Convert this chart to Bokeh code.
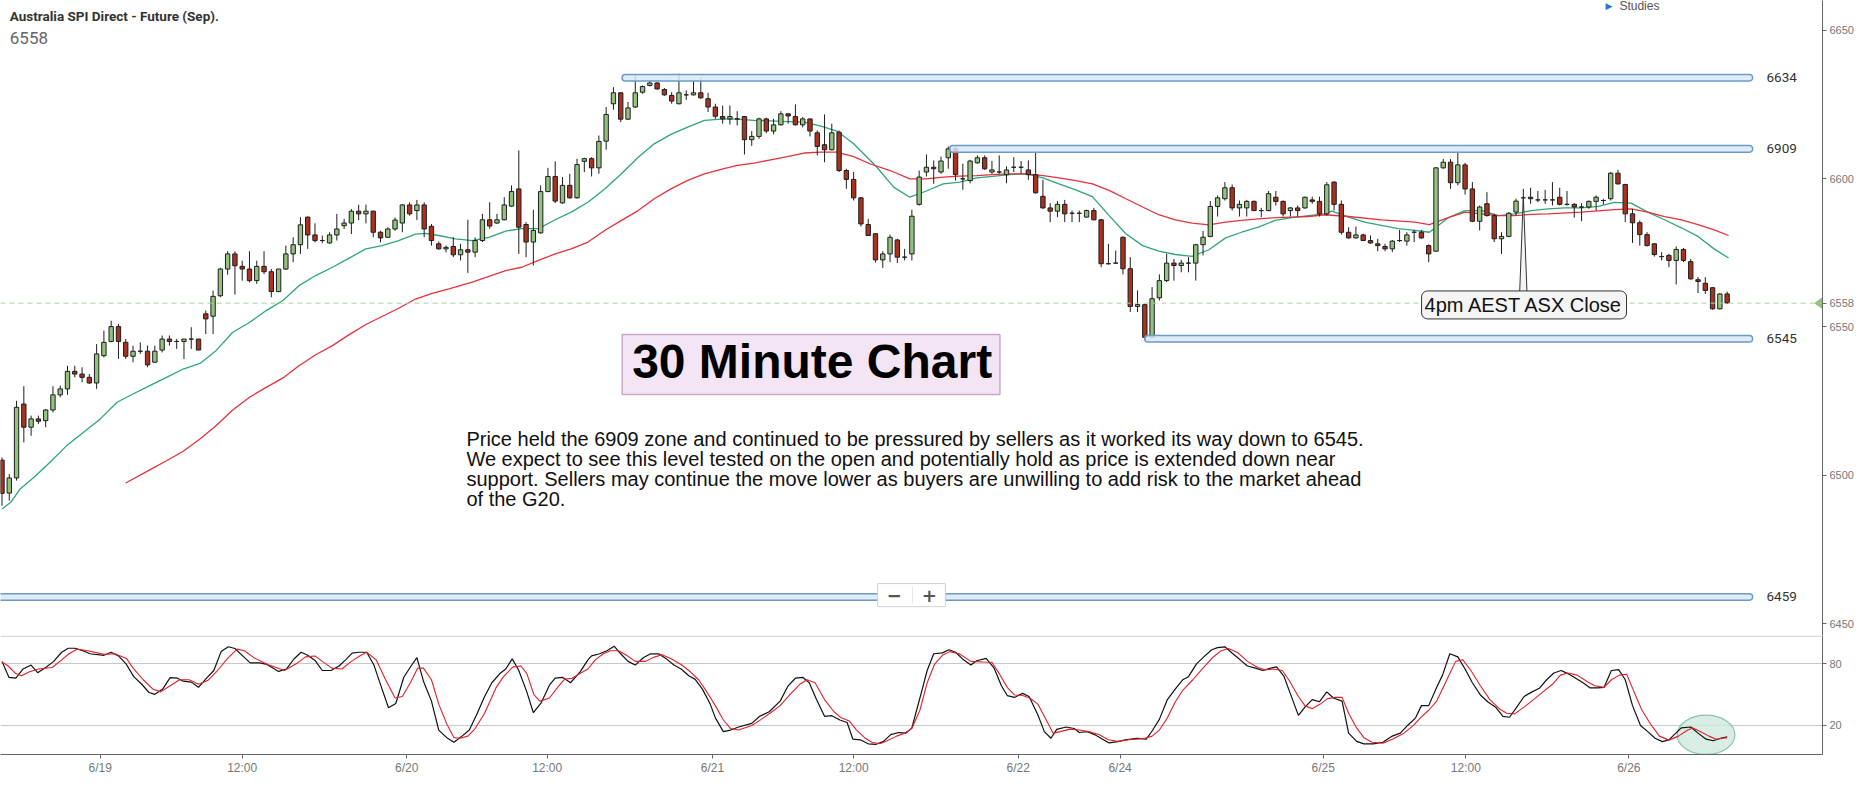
from bokeh.plotting import figure
from bokeh.models import Range1d, FixedTicker, BoxAnnotation, Label, Span, ColumnDataSource
from bokeh.layouts import column
from bokeh.embed import file_html
from bokeh.resources import INLINE

# ---------------- data (30-minute bars) ----------------
opens = [6505.1,6494.0,6499.1,6524.0,6516.2,6519.0,6518.4,6522.0,6527.1,6529.1,6535.0,6534.1,6533.0,6531.1,6540.3,6545.1,6550.1,6544.8,6540.1,6541.8,
         6541.8,6538.1,6542.2,6545.9,6545.1,6545.1,6545.9,6545.9,6554.4,6553.6,6560.5,6569.5,6574.6,6570.4,6569.5,6565.6,6570.4,6568.6,6561.9,6569.5,
         6574.6,6577.7,6587.0,6581.0,6579.1,6578.3,6581.0,6584.1,6585.0,6589.0,6588.1,6589.0,6581.9,6580.2,6583.0,6585.0,6591.1,6589.2,6591.1,6583.9,
         6578.0,6576.3,6577.1,6574.3,6576.0,6575.2,6579.1,6586.1,6585.0,6586.1,6590.7,6596.5,6584.5,6578.6,6581.7,6595.6,6600.7,6591.8,6597.7,6593.5,
         6605.8,6606.7,6603.6,6612.6,6625.2,6628.9,6620.0,6624.1,6629.1,6631.4,6632.2,6630.0,6628.0,6625.2,6628.2,6628.2,6628.9,6626.9,6624.1,6620.9,
         6620.1,6620.1,6620.9,6613.1,6614.2,6620.1,6616.0,6618.1,6621.8,6620.9,6618.1,6620.1,6615.4,6611.4,6609.7,6615.6,6602.7,6599.7,6593.5,6584.5,
         6581.4,6572.6,6574.6,6579.3,6573.5,6574.6,6591.3,6602.2,6603.8,6602.2,6607.0,6610.0,6599.9,6599.3,6605.3,6607.0,6602.2,6602.2,6601.3,6603.8,
         6603.8,6602.9,6601.3,6594.0,6590.1,6589.0,6591.3,6588.3,6588.3,6587.0,6589.2,6586.1,6571.3,6571.5,6580.2,6569.6,6556.9,6557.5,6546.5,6559.8,
         6565.6,6571.5,6570.7,6571.5,6571.5,6577.7,6580.5,6590.6,6593.2,6596.9,6590.1,6590.1,6592.3,6589.2,6589.2,6593.7,6592.3,6589.2,6590.1,6590.1,
         6592.8,6592.3,6588.1,6598.8,6591.3,6581.9,6580.0,6581.0,6579.1,6578.0,6577.1,6576.3,6579.1,6578.9,6581.9,6581.9,6577.4,6575.5,6603.6,6605.5,
         6598.6,6604.6,6596.5,6585.6,6591.5,6587.5,6579.7,6580.5,6588.7,6593.5,6593.7,6592.8,6592.8,6592.8,6593.7,6591.3,6591.3,6590.4,6590.4,6592.3,
         6592.6,6593.2,6601.8,6598.0,6588.1,6585.1,6581.1,6578.0,6573.7,6574.1,6572.4,6576.1,6572.0,6565.9,6564.7,6563.2,6556.1,6561.1]
highs = [6506.0,6500.4,6525.1,6530.0,6520.1,6520.1,6522.3,6530.0,6530.2,6536.9,6536.9,6536.4,6534.1,6544.2,6548.7,6552.1,6551.0,6545.9,6543.7,6544.8,
         6543.7,6543.7,6547.1,6547.1,6545.9,6545.9,6549.9,6545.9,6555.5,6562.2,6569.9,6575.5,6575.5,6572.3,6575.5,6572.3,6575.5,6569.5,6569.5,6577.4,
         6580.2,6587.0,6587.2,6584.9,6580.8,6581.9,6588.1,6586.4,6589.7,6591.2,6591.2,6589.2,6582.4,6583.6,6586.9,6591.4,6592.0,6592.8,6592.0,6584.7,
         6578.8,6577.4,6580.2,6578.0,6586.1,6580.2,6588.1,6592.0,6588.1,6593.7,6597.7,6609.5,6585.3,6589.5,6597.7,6603.6,6605.8,6600.5,6601.6,6606.7,
         6607.0,6607.2,6614.5,6624.1,6630.8,6629.1,6625.8,6635.1,6631.4,6632.8,6632.5,6630.5,6629.1,6635.3,6629.7,6632.8,6634.0,6628.9,6625.2,6624.6,
         6624.6,6622.7,6620.9,6616.0,6620.5,6620.5,6620.1,6622.7,6622.0,6625.0,6620.7,6620.1,6616.2,6621.6,6618.5,6616.2,6603.3,6602.2,6593.7,6586.4,
         6581.6,6575.5,6581.1,6579.7,6576.3,6589.5,6602.7,6608.1,6606.1,6607.4,6610.8,6610.8,6605.0,6606.3,6607.8,6607.8,6605.9,6607.8,6604.1,6607.2,
         6605.9,6606.1,6608.9,6599.6,6591.7,6592.4,6592.8,6589.2,6589.2,6589.5,6590.1,6586.4,6578.0,6575.7,6580.5,6573.5,6562.3,6557.8,6563.4,6567.7,
         6574.6,6572.9,6572.6,6573.5,6578.0,6582.3,6592.4,6594.3,6598.8,6598.0,6592.6,6592.8,6592.6,6590.1,6595.8,6595.8,6592.6,6590.4,6590.9,6593.9,
         6593.9,6593.9,6598.8,6599.1,6592.6,6583.6,6583.8,6581.4,6580.8,6579.7,6578.0,6579.3,6582.7,6581.9,6582.7,6582.7,6577.8,6603.8,6606.6,6606.6,
         6609.2,6605.3,6598.8,6590.9,6595.4,6588.1,6581.9,6588.7,6593.2,6596.5,6596.9,6595.8,6596.2,6598.8,6596.9,6595.8,6591.7,6591.7,6592.6,6594.3,
         6593.2,6602.2,6602.9,6598.2,6589.8,6585.9,6581.9,6578.2,6575.2,6574.6,6577.1,6576.6,6572.9,6566.8,6566.8,6563.4,6561.4,6561.9]
lows = [6489.7,6491.4,6498.2,6511.1,6513.3,6517.3,6516.2,6521.2,6526.3,6527.1,6533.0,6531.3,6530.8,6529.1,6539.7,6544.8,6539.2,6539.2,6538.1,6540.9,
        6536.4,6538.1,6541.4,6543.7,6542.6,6539.2,6542.6,6542.2,6547.6,6547.6,6560.0,6567.6,6560.9,6565.6,6565.0,6564.5,6567.8,6560.0,6561.7,6569.2,
        6571.8,6574.6,6576.3,6578.5,6578.2,6578.0,6579.1,6583.0,6581.3,6586.0,6584.9,6580.2,6578.5,6580.0,6582.4,6581.9,6587.5,6586.0,6580.2,6577.4,
        6576.0,6575.1,6573.5,6572.4,6568.2,6573.5,6578.6,6583.1,6584.7,6585.9,6590.4,6574.6,6573.5,6570.7,6581.4,6595.4,6591.7,6591.5,6593.2,6593.2,
        6602.2,6600.7,6601.6,6609.7,6623.2,6619.0,6619.8,6623.8,6628.6,6631.0,6630.0,6627.9,6625.2,6625.0,6626.5,6628.0,6626.9,6622.4,6620.1,6618.5,
        6618.2,6617.9,6608.1,6611.0,6613.4,6615.3,6614.9,6617.9,6618.5,6617.9,6617.3,6614.2,6607.8,6605.5,6609.5,6602.2,6596.5,6592.6,6583.8,6580.6,
        6571.7,6569.9,6571.8,6571.5,6572.4,6572.4,6590.9,6600.7,6598.2,6601.6,6603.3,6599.3,6596.2,6598.4,6605.0,6602.9,6601.6,6601.6,6598.4,6602.2,
        6601.6,6599.6,6594.9,6589.8,6585.3,6587.0,6585.3,6585.3,6585.3,6586.8,6585.9,6570.1,6571.0,6571.3,6567.7,6555.0,6555.0,6545.6,6546.3,6558.9,
        6565.1,6565.6,6568.4,6568.4,6565.6,6574.1,6580.2,6587.2,6592.6,6589.2,6587.2,6587.2,6589.0,6587.0,6589.0,6590.9,6587.2,6587.2,6587.2,6589.8,
        6591.5,6587.2,6587.5,6589.2,6581.1,6579.7,6579.7,6578.9,6578.0,6575.5,6575.5,6575.2,6578.6,6577.4,6578.6,6579.7,6571.8,6575.5,6603.3,6596.5,
        6597.7,6594.6,6585.3,6582.5,6587.2,6578.6,6574.6,6580.2,6587.5,6587.5,6591.5,6592.0,6591.5,6590.9,6590.9,6590.9,6586.8,6585.6,6589.8,6589.2,
        6591.3,6592.6,6598.0,6585.3,6578.3,6577.4,6577.1,6573.7,6572.4,6570.1,6564.3,6571.8,6565.9,6561.4,6561.1,6555.8,6555.9,6557.8]
closes = [6493.9,6499.1,6522.9,6516.2,6519.0,6518.2,6522.0,6527.1,6529.1,6535.0,6534.1,6533.0,6531.1,6540.9,6544.8,6550.1,6545.1,6540.1,6541.8,6541.8,
          6537.2,6541.8,6545.9,6545.1,6545.1,6545.9,6545.9,6542.2,6552.7,6560.3,6569.5,6574.6,6570.6,6569.5,6565.6,6570.4,6568.6,6561.9,6569.5,6574.6,
          6577.7,6584.4,6581.0,6579.1,6579.1,6581.0,6583.0,6585.0,6589.0,6588.1,6589.0,6581.9,6580.0,6583.0,6586.0,6591.1,6588.1,6591.1,6583.0,6579.1,
          6576.3,6576.8,6574.3,6576.0,6575.2,6579.1,6586.1,6584.0,6586.1,6591.1,6595.6,6583.6,6578.6,6582.5,6595.6,6600.7,6592.4,6597.7,6593.5,6604.7,
          6606.7,6603.6,6612.5,6621.6,6628.9,6620.0,6623.8,6628.9,6631.0,6632.2,6630.2,6628.2,6626.1,6628.9,6628.2,6628.9,6627.2,6624.1,6621.0,6620.1,
          6620.9,6620.1,6613.1,6614.2,6620.1,6616.0,6618.1,6621.8,6621.1,6618.1,6620.1,6616.0,6610.8,6609.7,6615.4,6602.7,6599.7,6593.5,6584.7,6580.8,
          6572.6,6574.6,6580.2,6573.5,6573.5,6587.3,6600.5,6603.8,6603.3,6605.9,6610.0,6601.3,6599.9,6605.9,6607.0,6603.3,6602.9,6602.2,6602.9,6603.8,
          6603.8,6601.3,6595.2,6590.1,6589.0,6591.3,6588.1,6588.3,6588.3,6589.2,6586.1,6571.3,6571.3,6571.5,6569.6,6556.9,6557.5,6546.5,6559.5,6565.6,
          6571.5,6570.7,6571.5,6571.5,6577.7,6580.2,6590.6,6593.5,6596.9,6590.1,6591.3,6592.3,6589.2,6589.2,6594.9,6592.3,6588.1,6590.1,6589.2,6593.7,
          6592.3,6588.1,6597.9,6591.3,6581.9,6580.0,6581.0,6579.1,6578.3,6577.4,6576.3,6578.9,6579.1,6581.0,6581.9,6580.0,6574.6,6603.6,6605.5,6598.6,
          6604.6,6596.5,6585.6,6590.4,6587.5,6579.7,6580.5,6588.3,6592.4,6593.5,6593.2,6592.8,6592.8,6592.8,6591.3,6591.3,6590.4,6590.4,6592.3,6593.7,
          6592.6,6601.8,6598.2,6588.1,6585.1,6581.1,6577.4,6574.4,6573.7,6572.4,6576.1,6572.4,6566.2,6565.3,6562.3,6556.1,6561.1,6558.1]
bars = list(range(len(closes)))

# moving averages (bar position, price)
ma_fast_x = [0.0,1.2,2.5,4.4,6.6,8.9,11.2,13.5,15.8,18.0,20.3,22.6,24.9,27.2,29.4,31.7,34.0,36.3,38.6,40.8,43.1,45.4,47.7,50.0,52.2,54.5,56.8,58.2,
             60.0,62.3,64.6,66.9,69.2,71.4,73.7,76.0,78.2,80.5,82.8,85.1,87.4,89.6,91.9,94.2,96.5,98.8,101.0,103.3,105.6,107.9,110.2,112.5,114.7,117.0,
             119.3,120.2,122.5,124.7,127.0,129.3,131.6,133.9,136.1,138.4,140.7,143.0,145.2,147.5,149.8,152.1,154.4,156.7,158.9,161.2,163.5,165.8,168.1,
             170.3,172.6,174.9,177.2,179.5,181.7,182.7,185.0,187.2,189.5,191.8,194.1,196.1,198.7,201.0,203.3,205.6,207.8,210.1,212.4,214.7,217.0,219.3,
             221.5,223.8,226.1,228.4,230.7,233.0,235.2,237.2]
ma_fast = [6488.6,6490.9,6495.4,6499.3,6504.4,6510.0,6514.5,6519.0,6524.6,6527.4,6530.2,6533.0,6535.8,6537.7,6542.0,6548.2,6551.5,6555.5,6558.9,6563.9,
           6567.3,6570.1,6573.2,6576.3,6577.4,6579.1,6581.3,6581.5,6580.8,6579.7,6579.1,6580.2,6582.3,6583.1,6583.1,6586.1,6588.7,6592.0,6596.5,6601.6,
           6607.2,6611.7,6614.9,6617.3,6619.6,6620.0,6620.0,6619.6,6619.4,6619.2,6619.0,6617.7,6616.0,6611.7,6606.1,6603.8,6597.1,6593.7,6595.8,6598.2,
           6598.8,6600.2,6600.7,6601.3,6601.6,6600.2,6598.2,6596.2,6593.9,6587.5,6581.4,6577.4,6575.5,6574.4,6573.8,6576.0,6580.0,6581.9,6583.6,6585.9,
           6586.8,6587.5,6588.1,6589.0,6587.0,6585.3,6584.2,6583.1,6582.5,6581.9,6586.8,6589.2,6589.2,6587.5,6588.1,6589.2,6589.8,6590.1,6590.1,6590.6,
           6592.0,6591.7,6588.7,6586.1,6583.4,6580.5,6576.3,6573.2]
ma_slow_x = [17.0,20.3,22.6,24.9,27.2,29.4,31.7,34.0,36.3,38.6,40.8,43.1,45.4,47.7,50.0,52.2,54.5,56.8,59.1,61.4,64.6,69.2,71.4,73.7,76.0,78.2,80.5,
             82.8,85.1,87.4,89.6,91.9,94.2,96.5,98.8,101.0,103.3,105.6,107.9,110.2,112.5,114.7,117.0,119.3,121.6,122.5,124.7,127.0,129.3,131.6,133.9,
             136.1,138.4,140.7,143.0,145.2,147.5,149.8,152.1,154.4,156.7,158.9,161.2,163.5,165.8,168.1,170.3,172.6,174.9,177.2,179.5,181.7,185.0,189.5,
             194.1,196.1,198.7,201.0,203.3,205.6,207.8,210.1,212.4,217.0,221.5,223.8,226.1,228.4,230.7,233.0,235.2,237.2]
ma_slow = [6497.4,6501.8,6504.9,6508.1,6512.2,6516.7,6522.0,6526.3,6529.6,6532.8,6536.9,6540.6,6543.7,6547.4,6550.8,6553.5,6556.3,6559.4,6561.3,6562.8,
           6565.1,6569.0,6570.1,6572.4,6574.6,6576.3,6578.6,6582.5,6585.9,6589.2,6593.2,6596.5,6599.4,6601.6,6603.1,6604.4,6605.2,6606.3,6607.4,6608.6,
           6608.9,6608.9,6607.4,6604.9,6603.0,6602.2,6599.9,6599.9,6600.5,6600.8,6601.0,6601.3,6601.6,6601.6,6601.0,6600.2,6599.3,6598.2,6596.0,6593.2,
           6590.4,6587.8,6586.1,6585.0,6584.4,6585.3,6585.9,6586.4,6586.8,6587.0,6587.2,6587.8,6587.2,6586.1,6585.3,6584.5,6586.8,6588.7,6588.1,6587.5,
           6587.5,6587.9,6588.1,6588.7,6589.5,6589.8,6588.7,6587.2,6586.1,6584.5,6582.7,6580.8]

# stochastic %K (black) and %D (red)
stoch_k_x = [0.0,0.95,1.9,2.9,4.0,4.9,6.1,7.1,8.2,9.1,10.0,11.1,12.1,14.0,15.0,16.0,17.1,18.1,19.2,20.2,21.0,22.1,23.1,24.1,24.9,26.0,27.0,28.1,29.1,
             30.1,31.1,32.0,33.0,34.1,35.4,36.4,38.0,39.1,40.1,41.1,42.0,43.0,44.0,45.2,46.3,47.2,48.1,49.0,50.1,51.1,52.2,53.1,54.1,55.2,56.2,57.0,
             57.9,59.0,60.0,61.1,62.1,63.2,64.2,65.2,66.3,67.3,68.4,69.2,70.1,71.0,72.1,73.0,74.1,75.2,76.0,77.0,78.1,79.4,80.5,81.0,82.1,83.1,84.1,
             85.0,86.0,87.0,88.1,89.1,90.2,91.2,92.3,93.3,94.4,95.2,96.2,97.3,98.0,99.1,100.1,101.2,103.0,104.1,105.4,106.9,108.0,109.0,110.0,110.9,
             111.9,113.0,114.0,115.1,116.1,116.9,117.9,119.0,120.0,121.1,122.1,123.2,124.2,125.0,126.1,127.1,128.0,129.2,130.1,131.0,132.1,133.1,133.9,
             135.2,136.3,137.3,138.1,139.1,140.2,141.1,142.3,143.2,144.1,144.9,146.2,147.3,148.0,149.1,150.1,151.2,152.1,153.3,154.3,155.9,157.2,158.0,
             159.0,160.1,161.2,162.2,163.0,164.1,165.1,166.2,167.0,168.0,169.1,170.1,171.1,172.2,173.2,174.3,175.1,176.1,176.9,178.1,179.0,180.0,181.0,
             182.0,182.9,184.1,185.0,186.1,187.1,188.4,189.7,191.0,192.1,193.1,194.2,195.0,196.0,197.1,197.9,198.9,200.0,201.0,202.0,203.1,204.1,205.2,
             206.2,207.1,208.1,209.1,210.2,211.2,212.2,213.2,214.2,215.1,216.2,217.2,218.2,219.2,220.1,221.1,222.1,223.0,224.0,225.1,226.1,227.1,228.1,
             229.0,229.8,230.7,232.0,233.0,234.1,235.1,236.1,237.0]
stoch_k = [82.4,66.9,66.0,75.0,78.8,71.4,77.0,82.4,91.3,95.2,95.2,92.8,89.8,88.3,91.3,87.7,79.4,67.5,60.1,52.1,50.3,55.6,66.6,66.0,63.1,62.2,57.1,66.0,73.5,
           91.9,96.6,94.9,88.3,80.9,80.9,79.4,72.6,75.0,84.7,91.3,88.3,83.3,73.5,73.5,77.9,83.9,90.4,91.3,91.3,78.8,55.6,37.2,41.4,66.9,77.9,86.0,
           63.1,43.7,15.5,8.1,3.6,9.6,15.5,30.4,48.2,61.6,70.5,75.0,84.8,73.5,52.7,32.4,42.3,59.2,66.0,66.9,61.6,72.0,83.9,87.7,89.8,92.8,97.2,
           89.8,82.4,78.8,85.9,89.8,89.8,85.3,78.8,75.0,68.1,65.1,55.6,40.8,27.4,14.0,15.5,18.5,22.0,28.9,33.3,43.7,58.6,66.0,66.9,61.6,
           45.2,28.9,29.5,25.3,22.9,6.6,6.0,2.1,1.5,4.5,11.1,13.1,12.5,17.6,46.7,73.5,89.8,90.7,93.7,91.3,83.9,78.8,83.0,
           85.3,75.8,58.6,49.1,47.3,51.2,48.2,30.4,14.0,7.5,16.1,18.5,17.0,13.1,14.0,11.1,6.6,3.0,4.2,6.0,7.5,6.6,14.6,
           25.9,45.2,55.6,64.5,67.5,80.0,86.8,93.7,95.8,96.6,89.8,83.9,77.9,75.8,73.5,75.8,77.0,68.1,52.7,29.8,37.8,45.2,43.1,
           52.7,46.7,43.7,12.5,4.5,2.1,2.1,3.6,9.6,12.5,20.0,27.4,39.3,39.3,57.1,69.0,89.8,86.8,75.0,61.6,49.7,43.1,37.8,
           28.9,28.0,37.8,48.2,52.7,56.2,64.5,71.1,73.5,70.5,66.0,61.6,56.5,56.5,57.1,73.5,74.4,64.5,39.3,20.0,14.0,7.5,4.2,
           6.0,11.6,17.6,18.5,12.5,6.6,5.1,7.5,9.0]
stoch_d_x = [0.0,0.85,1.9,2.7,3.7,5.0,6.9,8.2,9.2,10.3,11.8,14.0,15.5,17.1,18.1,19.4,20.7,21.8,23.1,24.4,25.7,27.0,28.3,29.6,31.0,32.3,33.3,34.6,36.5,
             38.8,40.6,41.7,43.0,44.0,45.3,46.7,48.0,49.3,50.1,51.4,52.7,54.0,55.0,56.1,57.1,57.9,59.0,60.0,61.1,62.1,62.9,64.0,65.0,66.3,67.9,68.9,
             70.2,71.3,72.1,73.1,73.9,75.2,76.5,77.3,78.3,79.4,80.5,81.5,82.6,83.6,84.7,85.7,87.0,88.4,89.7,90.7,92.0,93.3,94.6,95.7,96.7,98.0,99.1,
             100.1,101.2,103.0,104.3,105.6,106.9,108.2,109.6,110.6,111.7,113.0,114.3,115.3,116.4,117.4,118.5,119.5,120.6,121.6,122.9,124.0,125.0,126.1,
             127.1,128.1,129.2,130.2,131.5,133.1,134.7,136.0,137.0,138.1,139.1,140.2,141.2,142.3,143.3,144.4,145.4,146.7,148.0,149.3,150.7,152.0,153.3,
             154.8,156.9,158.0,159.0,160.1,161.2,162.2,163.6,164.9,166.2,167.5,168.5,169.8,171.1,172.5,173.5,174.6,175.9,176.9,178.1,179.0,180.0,181.1,
             182.1,183.2,184.1,185.0,186.1,187.1,188.2,189.7,191.0,192.6,193.9,195.0,196.0,197.1,198.1,198.9,199.7,200.7,201.8,203.1,204.4,205.7,206.7,
             207.8,209.1,210.4,211.7,213.0,214.1,215.1,216.4,217.7,218.8,220.1,221.1,222.2,223.2,224.3,225.3,226.6,227.7,229.0,230.3,231.6,232.3,233.3,
             234.5,235.5,237.0]
stoch_d = [81.8,77.9,70.5,68.4,72.0,75.0,76.4,83.9,89.8,94.3,92.8,89.2,89.8,85.3,75.0,64.5,55.6,52.7,58.6,64.5,64.5,60.1,64.0,73.5,85.4,94.3,92.8,86.0,79.4,
           73.5,80.9,86.8,87.7,82.4,75.8,75.0,82.4,88.3,91.3,83.9,64.5,46.7,48.2,61.6,75.8,75.8,64.5,40.8,21.5,8.1,7.5,9.6,17.0,31.9,57.1,67.5,
           77.0,77.9,70.5,49.7,43.7,46.7,58.6,65.1,66.0,70.5,75.0,83.9,89.8,92.8,92.8,88.9,82.4,82.4,86.8,88.9,84.8,79.4,72.0,64.5,54.1,39.3,25.3,
           17.0,15.5,20.0,25.9,32.4,39.3,49.7,60.1,64.5,61.6,45.2,33.3,27.4,24.4,15.5,8.1,3.6,2.1,5.1,9.6,12.5,17.0,34.8,
           61.6,79.4,88.3,91.9,89.8,82.4,81.8,81.5,70.5,57.1,49.7,49.1,46.7,40.8,27.4,12.5,14.0,16.4,15.5,14.0,11.1,6.0,4.5,
           6.0,7.2,9.6,15.5,27.4,43.1,54.1,64.5,75.0,85.4,92.8,94.9,90.7,82.4,76.4,74.1,75.0,73.5,63.1,48.2,39.3,36.3,40.8,
           46.1,47.3,47.3,31.9,17.6,8.1,3.6,2.7,6.6,12.5,20.0,28.3,34.8,43.7,58.6,70.5,82.4,83.9,73.5,58.6,45.2,36.3,31.9,
           31.3,37.8,45.2,52.7,60.1,69.0,71.1,69.0,63.1,58.6,57.1,64.5,69.0,69.9,51.2,34.8,20.0,9.6,5.7,9.6,15.5,17.6,14.0,
           9.6,6.6,8.1]

# support / resistance levels drawn on the chart
level_price = [6634, 6610, 6546, 6459]
level_label = ["6634", "6909", "6545", "6459"]
level_start = [85.2, 130.2, 157.0, -1.0]
last_price = 6558

# price axis ticks and time axis
price_ticks = [6450, 6500, 6550, 6600, 6650]
tick_pos = [13.5, 33.0, 55.6, 74.9, 97.6, 117.0, 139.6, 153.6, 181.5, 201.1, 223.5]
tick_labels = ["6/19", "12:00", "6/20", "12:00", "6/21", "12:00", "6/22", "6/24", "6/25", "12:00", "6/26"]

paragraph = ["Price held the 6909 zone and continued to be pressured by sellers as it worked its way down to 6545.",
             "We expect to see this level tested on the open and potentially hold as price is extended down near",
             "support. Sellers may continue the move lower as buyers are unwilling to add risk to the market ahead",
             "of the G20."]
close_bar = 209

# ---------------- styling constants ----------------
GREEN = "#93c27f"
RED = "#a8321f"
AX = "#666666"
FW = 1822
BAND_END = 240.5

xr = Range1d(-0.205, 250.1)

# ---------------- price panel ----------------
p = figure(frame_width=FW, frame_height=635, x_range=xr, y_range=Range1d(6446.0, 6660.0),
           output_backend="svg", toolbar_location=None, y_axis_location="right", x_axis_location=None,
           min_border=0, outline_line_color=None, title=None)
p.grid.visible = False
p.yaxis.ticker = FixedTicker(ticks=sorted(price_ticks + [last_price]))
ax = p.yaxis[0]
ax.axis_line_color = AX
ax.major_tick_line_color = AX
ax.major_tick_in = 0
ax.major_tick_out = 4
ax.minor_tick_line_color = None
ax.major_label_text_font = "Liberation Sans"
ax.major_label_text_font_size = "11px"
ax.major_label_text_color = "#777777"
ax.major_label_standoff = 3

# dashed last-price line
p.add_layout(Span(location=last_price, dimension="width", line_color="#a9d49a", line_dash="5 4", line_width=1))

# moving averages
p.line(ma_fast_x, ma_fast, line_color="#2fa57a", line_width=1.3)
p.line(ma_slow_x, ma_slow, line_color="#e5323c", line_width=1.3)

# candles
tops = [max(o, c) for o, c in zip(opens, closes)]
bots = [min(o, c) for o, c in zip(opens, closes)]
cols = [GREEN if c >= o else RED for o, c in zip(opens, closes)]
src = ColumnDataSource(dict(x=bars, top=tops, bottom=bots, high=highs, low=lows, color=cols))
p.segment(x0="x", y0="high", x1="x", y1="low", source=src, line_color="#1e1e1e", line_width=1)
p.vbar(x="x", width=0.6, top="top", bottom="bottom", fill_color="color", line_color="#1e1e1e",
       line_width=1, source=src)

# last price arrow at the axis
p.patch([249.05, 250.1, 250.1], [last_price, last_price + 1.8, last_price - 1.8],
        fill_color="#8cc07c", line_color="#8cc07c")

# level bands
for lp, ls in zip(level_price, level_start):
    p.add_layout(BoxAnnotation(left=ls, right=BAND_END, bottom=lp - 1.1, top=lp + 1.1,
                               fill_color="#d9e8f8", fill_alpha=0.85, line_color="#6a9bcb",
                               line_alpha=1, line_width=1.5, border_radius=3))
for lp, lab in zip(level_price, level_label):
    p.add_layout(Label(x=BAND_END + 1.9, y=lp, text=lab, text_baseline="middle", text_align="left",
                       text_font="Roboto", text_font_size="13.5px", text_color="#333333"))

# title texts
p.add_layout(Label(x=1.07, y=6654.9, text="Australia SPI Direct - Future (Sep).", text_font="Roboto",
                   text_font_style="bold", text_font_size="13.5px", text_color="#333333", text_baseline="middle"))
p.add_layout(Label(x=1.07, y=6647.4, text=str(last_price), text_font="Roboto", text_font_size="17px",
                   text_color="#666666", text_baseline="middle"))
p.add_layout(Label(x=220.3, y=6658.1, text="\u25B6", text_font="DejaVu Sans", text_font_size="9px",
                   text_color="#2b6fd8", text_baseline="middle"))
p.add_layout(Label(x=222.2, y=6658.1, text="Studies", text_font="Liberation Sans", text_font_size="12px",
                   text_color="#555555", text_baseline="middle"))

# "30 Minute Chart" box
p.add_layout(BoxAnnotation(left=85.2, right=137.1, top=6547.4, bottom=6527.2, fill_color="#f3e5f3",
                           fill_alpha=1, line_color="#c9a9cb", line_alpha=1, line_width=1.5))
p.add_layout(Label(x=111.3, y=6538.5, text="30 Minute Chart", text_align="center", text_baseline="middle",
                   text_font="Liberation Sans", text_font_style="bold", text_font_size="48px", text_color="#000000"))

# commentary paragraph
for i, line in enumerate(paragraph):
    p.add_layout(Label(x=63.8, y=6512.1 - i * 6.7, text=line, text_baseline="middle",
                       text_font="Liberation Sans", text_font_size="20px", text_color="#111111"))

# zoom control
p.add_layout(BoxAnnotation(left=120.3, right=129.6, top=6463.5, bottom=6455.7, fill_color="white",
                           fill_alpha=1, line_color="#d0d0d0", line_alpha=1, line_width=1))
p.add_layout(Label(x=122.6, y=6459.6, text="\u2212", text_align="center", text_baseline="middle",
                   text_font="DejaVu Sans", text_font_style="bold", text_font_size="18px", text_color="#555555"))
p.add_layout(Label(x=127.4, y=6459.6, text="+", text_align="center", text_baseline="middle",
                   text_font="DejaVu Sans", text_font_style="bold", text_font_size="18px", text_color="#555555"))
p.add_layout(BoxAnnotation(left=125.05, right=125.15, top=6462.5, bottom=6456.7, fill_color="#dddddd",
                           fill_alpha=1, line_color=None))

# ASX close callout
box_top = 6561.9
p.patch([close_bar - 0.5, close_bar, close_bar + 0.5], [box_top, 6594.0, box_top],
        fill_color="#f4f4f4", line_color="#333333", line_width=1)
p.add_layout(Label(x=close_bar + 0.1, y=6557.4, text="4pm AEST ASX Close", text_align="center",
                   text_baseline="middle", text_font="Liberation Sans", text_font_size="20px",
                   text_color="#111111", background_fill_color="#f4f4f4", border_line_color="#333333",
                   border_line_width=1, border_radius=6, padding=3))

# ---------------- stochastic panel ----------------
p2 = figure(frame_width=FW, frame_height=119, x_range=xr, y_range=Range1d(-8.3, 107.6),
            output_backend="svg", toolbar_location=None, y_axis_location="right",
            min_border=0, outline_line_color=None, title=None)
p2.xgrid.visible = False
p2.yaxis.ticker = FixedTicker(ticks=[20, 80])
p2.ygrid.ticker = FixedTicker(ticks=[20, 80])
p2.ygrid.grid_line_color = "#c8c8c8"
p2.xaxis.ticker = FixedTicker(ticks=tick_pos)
p2.xaxis.major_label_overrides = {t: l for t, l in zip(tick_pos, tick_labels)}
for a in [p2.yaxis[0], p2.xaxis[0]]:
    a.axis_line_color = AX
    a.major_tick_line_color = AX
    a.major_tick_in = 0
    a.major_tick_out = 4
    a.minor_tick_line_color = None
    a.major_label_text_font = "Liberation Sans"
    a.major_label_text_color = "#777777"
    a.major_label_standoff = 3
p2.xaxis.major_label_standoff = 2
p2.yaxis.major_label_text_font_size = "11px"
p2.xaxis.major_label_text_font_size = "12px"
p2.add_layout(Span(location=107.0, dimension="width", line_color="#c8c8c8", line_width=1))

p2.ellipse(x=[234.1], y=[10.9], width=7.93, height=38.3, fill_color="#cfe9dd", fill_alpha=0.8,
           line_color="#8cc4ae", line_width=1.2)
p2.line(stoch_k_x, stoch_k, line_color="#111111", line_width=1.2)
p2.line(stoch_d_x, stoch_d, line_color="#e0202a", line_width=1.1)

layout = column(p, p2, spacing=0)
open("out.html", "w").write(file_html(layout, INLINE))
